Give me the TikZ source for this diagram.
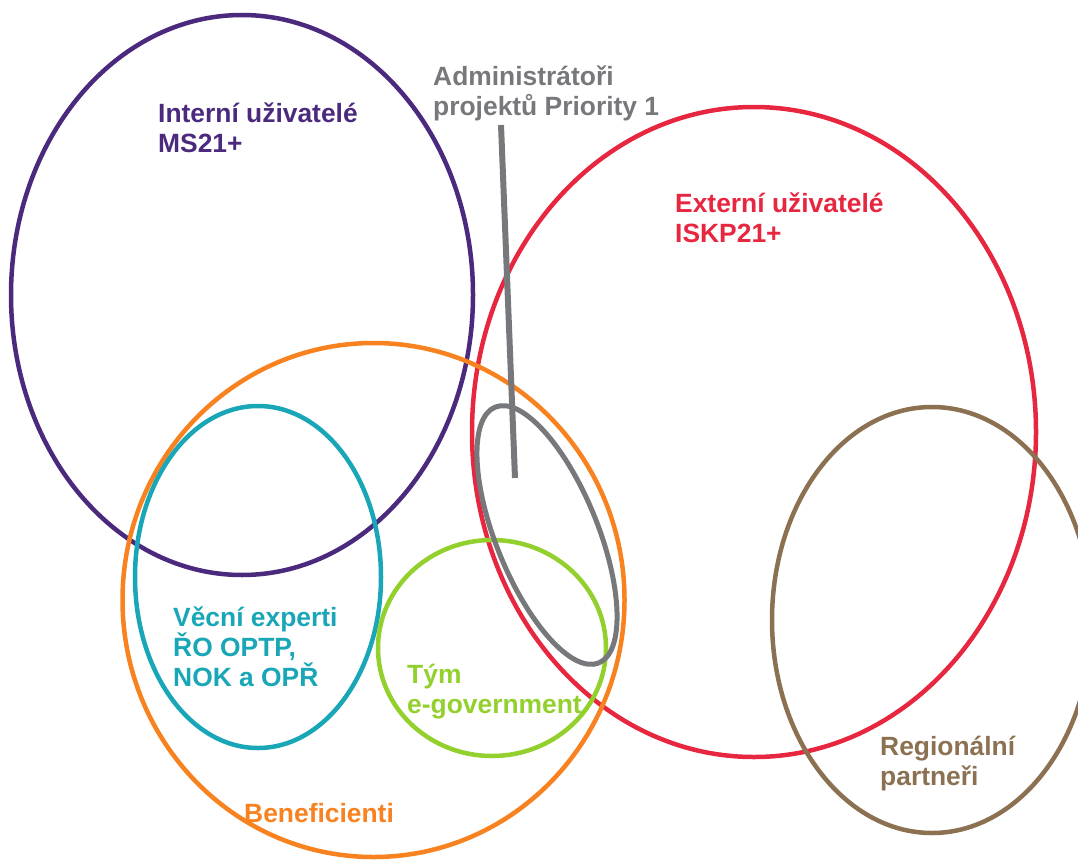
\documentclass[tikz,border=0pt]{standalone}
\usepackage{fontspec}
\setmainfont{Liberation Sans}
\begin{document}
\definecolor{cPurple}{HTML}{4B2A7E}
\definecolor{cRed}{HTML}{E7263F}
\definecolor{cOrange}{HTML}{F7821F}
\definecolor{cTeal}{HTML}{19A6B6}
\definecolor{cGreen}{HTML}{93D02E}
\definecolor{cBrown}{HTML}{8B7152}
\definecolor{cGrey}{HTML}{77787B}
\begin{tikzpicture}[x=1pt,y=-1pt,
  ring/.style={line width=4.5pt},
  % labels are placed by the baseline of their last line
  label/.style={anchor=base west, align=left, inner sep=0pt,
    font=\fontsize{26.4}{30}\selectfont\bfseries}]
  \useasboundingbox (0,0) rectangle (1078,859);
  \clip (0,0) rectangle (1078,859);

  % group rings
  \draw[ring, cPurple] (242,295) ellipse [x radius=231, y radius=280];
  \draw[ring, cRed]    (754,432) ellipse [x radius=282, y radius=325];
  \draw[ring, cOrange] (373.5,600) ellipse [x radius=251, y radius=257];
  \draw[ring, cTeal]   (258,577) ellipse [x radius=123, y radius=171];
  \draw[ring, cGreen]  (492,648) ellipse [x radius=114, y radius=108];
  \draw[ring, cBrown]  (932,620) ellipse [x radius=160, y radius=213];
  \draw[line width=5pt, cGrey, rotate around={-68:(547,535)}]
    (547,535) ellipse [x radius=138, y radius=51];

  % labels
  \node[label, text=cPurple] (intern) at (158,152) {Interní uživatelé\\MS21+};
  \node[label, text=cGrey]   (admin)  at (433,115) {Administrátoři\\projektů Priority 1};
  \node[label, text=cRed]    (extern) at (675,242) {Externí uživatelé\\ISKP21+};
  \node[label, text=cTeal]   (expert) at (173,686) {Věcní experti\\ŘO OPTP,\\NOK a OPŘ};
  \node[label, text=cGreen]  (team)   at (407,713) {Tým\\e-government};
  \node[label, text=cBrown]  (region) at (880,785) {Regionální\\partneři};
  \node[label, text=cOrange] (benef)  at (244,822) {Beneficienti};

  % pointer from the administrators label into their ring
  \coordinate (admtop) at (501,125);
  \coordinate (admend) at (515,478);
  \draw[line width=6pt, cGrey] (admtop) -- (admend);
\end{tikzpicture}
\end{document}
